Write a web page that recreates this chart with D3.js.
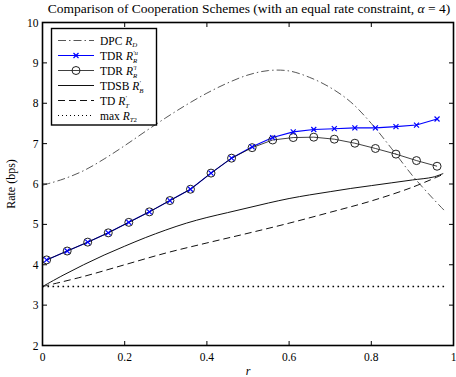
<!DOCTYPE html>
<html>
<head>
<meta charset="utf-8">
<script src="https://cdn.jsdelivr.net/npm/d3@7"></script>
<style>
  html, body { margin: 0; padding: 0; background: #fff; }
  svg { display: block; }
  text { font-family: "Liberation Serif", "DejaVu Serif", serif; fill: #000; }
</style>
</head>
<body>
<svg id="chart" width="456" height="377"></svg>
<script>
// Sampling points of the TDR schemes (marker positions)
const rMarkers = [0.01, 0.06, 0.11, 0.16, 0.21, 0.26, 0.31, 0.36, 0.41, 0.46,
                  0.51, 0.56, 0.61, 0.66, 0.71, 0.76, 0.81, 0.86, 0.91, 0.96];
const tdrUpper = [4.12, 4.34, 4.56, 4.79, 5.05, 5.31, 5.59, 5.87, 6.27, 6.64,
                  6.92, 7.15, 7.29, 7.35, 7.37, 7.39, 7.39, 7.42, 7.46, 7.61];
const tdrLower = [4.12, 4.34, 4.56, 4.79, 5.05, 5.31, 5.59, 5.87, 6.27, 6.64,
                  6.90, 7.09, 7.15, 7.16, 7.11, 7.01, 6.88, 6.74, 6.58, 6.44];

// Dirty-paper coding bound
const rDpc = [0, 0.05, 0.1, 0.15, 0.2, 0.25, 0.3, 0.35, 0.4, 0.45, 0.5, 0.55,
              0.6, 0.65, 0.7, 0.75, 0.8, 0.85, 0.9, 0.95, 0.98];
const dpc  = [5.97, 6.12, 6.33, 6.62, 6.95, 7.30, 7.64, 7.96, 8.25, 8.50, 8.70, 8.81,
              8.80, 8.64, 8.39, 8.03, 7.50, 6.87, 6.21, 5.64, 5.32];

// Time-division superposition broadcast
const rTdsb = [0, 0.05, 0.1, 0.15, 0.2, 0.25, 0.3, 0.35, 0.4, 0.45, 0.5, 0.55,
               0.6, 0.65, 0.7, 0.75, 0.8, 0.85, 0.9, 0.95, 0.975];
const tdsb  = [3.46, 3.74, 4.00, 4.24, 4.46, 4.67, 4.86, 5.03, 5.17, 5.29, 5.41, 5.53,
               5.64, 5.73, 5.81, 5.89, 5.96, 6.03, 6.10, 6.17, 6.26];

// Plain time division
const rTd = [0, 0.1, 0.2, 0.3, 0.4, 0.5, 0.6, 0.7, 0.8, 0.9, 0.975];
const td  = [3.46, 3.71, 4.00, 4.29, 4.54, 4.78, 5.03, 5.30, 5.58, 5.92, 6.24];

// Max rate of the second transmitter (constant)
const rMax = [0, 0.98];
const maxRt2 = [3.46, 3.46];

const xTicks = [0, 0.2, 0.4, 0.6, 0.8, 1];
const yTicks = [2, 3, 4, 5, 6, 7, 8, 9, 10];

const svg = d3.select("#chart");
const L = 42.5, R = 453.5, T = 22.5, B = 345.5;

const x = d3.scaleLinear().domain([0, 1]).range([L, R]);
const y = d3.scaleLinear().domain([2, 10]).range([B, T]);

const zip = (xs, ys) => xs.map((v, i) => [v, ys[i]]);
const smooth = d3.line().x(d => x(d[0])).y(d => y(d[1])).curve(d3.curveCatmullRom.alpha(0.5));
const straight = d3.line().x(d => x(d[0])).y(d => y(d[1]));

const plot = svg.append("g");

// Max R_T2 dotted line
plot.append("path").attr("d", straight(zip(rMax, maxRt2)))
  .attr("fill", "none").attr("stroke", "#000").attr("stroke-width", 1.6)
  .attr("stroke-dasharray", "1.6,3.4");

// TD dashed
plot.append("path").attr("d", smooth(zip(rTd, td)))
  .attr("fill", "none").attr("stroke", "#111").attr("stroke-width", 1)
  .attr("stroke-dasharray", "7,4");

// TDSB solid
plot.append("path").attr("d", smooth(zip(rTdsb, tdsb)))
  .attr("fill", "none").attr("stroke", "#111").attr("stroke-width", 1);

// DPC dash-dot
plot.append("path").attr("d", smooth(zip(rDpc, dpc)))
  .attr("fill", "none").attr("stroke", "#444").attr("stroke-width", 0.9)
  .attr("stroke-dasharray", "8,3,1.5,3");

// TDR upper (blue, x markers)
plot.append("path").attr("d", straight(zip(rMarkers, tdrUpper)))
  .attr("fill", "none").attr("stroke", "#0000ff").attr("stroke-width", 1.1);

// TDR lower (black, circle markers)
plot.append("path").attr("d", straight(zip(rMarkers, tdrLower)))
  .attr("fill", "none").attr("stroke", "#000").attr("stroke-width", 1)
  .attr("stroke-opacity", 0.75);

plot.selectAll("circle.lo").data(zip(rMarkers, tdrLower)).enter()
  .append("circle").attr("class", "lo")
  .attr("cx", d => x(d[0])).attr("cy", d => y(d[1])).attr("r", 4)
  .attr("fill", "none").attr("stroke", "#222").attr("stroke-width", 1);

const cross = (g, cx, cy, s) => {
  g.append("path")
    .attr("d", `M${cx - s},${cy - s}L${cx + s},${cy + s}M${cx - s},${cy + s}L${cx + s},${cy - s}`)
    .attr("stroke", "#0000ff").attr("stroke-width", 1.2).attr("fill", "none");
};
zip(rMarkers, tdrUpper).forEach(d => cross(plot, x(d[0]), y(d[1]), 2.5));

// Frame with inward ticks on all sides
const frame = svg.append("g");
frame.append("rect").attr("x", L).attr("y", T).attr("width", R - L).attr("height", B - T)
  .attr("fill", "none").attr("stroke", "#000").attr("stroke-width", 1.6);

const tk = 4.5;
xTicks.forEach(t => {
  frame.append("line").attr("x1", x(t)).attr("x2", x(t)).attr("y1", B).attr("y2", B - tk)
    .attr("stroke", "#000").attr("stroke-width", 1);
  frame.append("line").attr("x1", x(t)).attr("x2", x(t)).attr("y1", T).attr("y2", T + tk)
    .attr("stroke", "#000").attr("stroke-width", 1);
});
yTicks.forEach(t => {
  frame.append("line").attr("x1", L).attr("x2", L + tk).attr("y1", y(t)).attr("y2", y(t))
    .attr("stroke", "#000").attr("stroke-width", 1);
  frame.append("line").attr("x1", R).attr("x2", R - tk).attr("y1", y(t)).attr("y2", y(t))
    .attr("stroke", "#000").attr("stroke-width", 1);
});

// Tick labels
const fmt = d => (d === 0 || d === 1) ? String(d) : d3.format(".1f")(d);
svg.append("g").selectAll("text").data(xTicks).enter().append("text")
  .attr("x", d => x(d)).attr("y", B + 15).attr("text-anchor", "middle")
  .attr("font-size", 11.5).attr("fill", "#222").text(fmt);
svg.append("g").selectAll("text").data(yTicks).enter().append("text")
  .attr("x", L - 4).attr("y", d => y(d) + 4).attr("text-anchor", "end")
  .attr("font-size", 11.5).attr("fill", "#222").text(d => d);

// Axis labels
svg.append("text").attr("x", (L + R) / 2).attr("y", 375).attr("text-anchor", "middle")
  .attr("font-size", 12).attr("font-style", "italic").text("r");
svg.append("text").attr("transform", `translate(15,${(T + B) / 2}) rotate(-90)`)
  .attr("text-anchor", "middle").attr("font-size", 12).text("Rate (bps)");

// Title
const title = svg.append("text").attr("x", 249).attr("y", 13).attr("text-anchor", "middle")
  .attr("font-size", 13.5).attr("fill", "#222");
title.append("tspan").text("Comparison of Cooperation Schemes (with an equal rate constraint, ");
title.append("tspan").attr("font-style", "italic").text("α");
title.append("tspan").text(" = 4)");

// Legend
const lg = svg.append("g");
const lx0 = 51.5, ly0 = 28.5, lw = 105, lh = 96.5;
lg.append("rect").attr("x", lx0).attr("y", ly0).attr("width", lw).attr("height", lh)
  .attr("fill", "#fff").attr("stroke", "#000").attr("stroke-width", 1.4);

const rows = [40.5, 55.5, 70.5, 85.5, 100.5, 115.5];
const sx0 = 58, sx1 = 94, tx = 100;
const scriptSize = 6.8;

// Legend label: base text, italic R, then stacked superscript / subscript
function label(yv, base, sup, sub, subItalic) {
  const t = lg.append("text").attr("x", tx).attr("y", yv + 4).attr("font-size", 11.5);
  t.append("tspan").text(base);
  t.append("tspan").attr("font-style", "italic").text("R");
  let supLen = 0;
  if (sup) {
    const s = t.append("tspan").attr("font-size", scriptSize).attr("font-style", "italic")
      .attr("dy", -5).text(sup);
    supLen = s.node().getComputedTextLength();
  }
  const b = t.append("tspan").attr("font-size", scriptSize).attr("dy", sup ? 8.2 : 2.2).text(sub);
  if (subItalic) b.attr("font-style", "italic");
  if (sup) b.attr("dx", -supLen);
}

// DPC
lg.append("line").attr("x1", sx0).attr("x2", sx1).attr("y1", rows[0]).attr("y2", rows[0])
  .attr("stroke", "#444").attr("stroke-width", 0.9).attr("stroke-dasharray", "8,3,1.5,3");
label(rows[0], "DPC ", null, "D", true);

// TDR upper
lg.append("line").attr("x1", sx0).attr("x2", sx1).attr("y1", rows[1]).attr("y2", rows[1])
  .attr("stroke", "#0000ff").attr("stroke-width", 1.1);
cross(lg, (sx0 + sx1) / 2, rows[1], 2.5);
label(rows[1], "TDR ", "′u", "R", true);

// TDR lower
lg.append("line").attr("x1", sx0).attr("x2", sx1).attr("y1", rows[2]).attr("y2", rows[2])
  .attr("stroke", "#000").attr("stroke-width", 1).attr("stroke-opacity", 0.75);
lg.append("circle").attr("cx", (sx0 + sx1) / 2).attr("cy", rows[2]).attr("r", 4)
  .attr("fill", "none").attr("stroke", "#222");
label(rows[2], "TDR ", "′l", "R", true);

// TDSB
lg.append("line").attr("x1", sx0).attr("x2", sx1).attr("y1", rows[3]).attr("y2", rows[3])
  .attr("stroke", "#111").attr("stroke-width", 1);
label(rows[3], "TDSB ", "′", "B", true);

// TD
lg.append("line").attr("x1", sx0).attr("x2", sx1).attr("y1", rows[4]).attr("y2", rows[4])
  .attr("stroke", "#111").attr("stroke-width", 1).attr("stroke-dasharray", "7,4");
label(rows[4], "TD ", "′", "T", true);

// max R_T2
lg.append("line").attr("x1", sx0).attr("x2", sx1).attr("y1", rows[5]).attr("y2", rows[5])
  .attr("stroke", "#000").attr("stroke-width", 1).attr("stroke-dasharray", "1,3");
const mt = lg.append("text").attr("x", tx).attr("y", rows[5] + 4).attr("font-size", 11.5);
mt.append("tspan").text("max ");
mt.append("tspan").attr("font-style", "italic").text("R");
mt.append("tspan").attr("font-size", scriptSize).attr("font-style", "italic").attr("dy", 2.2).text("T");
mt.append("tspan").attr("font-size", scriptSize).text("2");
</script>
</body>
</html>
